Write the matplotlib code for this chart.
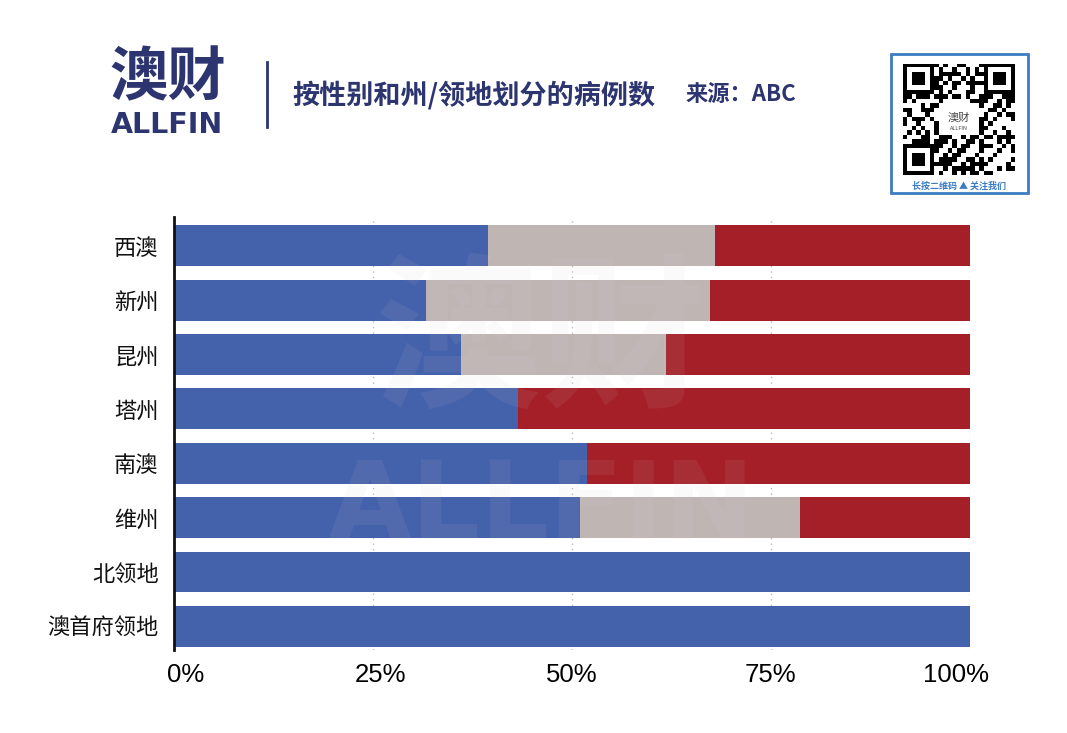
import matplotlib.pyplot as plt
import matplotlib.transforms as mtransforms
import numpy as np
from matplotlib.patches import Rectangle

plt.rcParams['font.family'] = ['Noto Sans CJK SC', 'DejaVu Sans']

# 数据（百分比，从图上读取）
states = ['西澳', '新州', '昆州', '塔州', '南澳', '维州', '北领地', '澳首府领地']
blue_pct = [39.4, 31.7, 36.1, 43.2, 51.9, 51.0, 100.0, 100.0]
gray_pct = [28.6, 35.6, 25.7, 0.0, 0.0, 27.6, 0.0, 0.0]
red_pct = [32.0, 32.7, 38.2, 56.8, 48.1, 21.4, 0.0, 0.0]
xticks = [0, 25, 50, 75, 100]
xtick_labels = ['0%', '25%', '50%', '75%', '100%']

c_blue = '#4461ab'
c_gray = '#bfb6b4'
c_red = '#a51f28'
navy = '#2c3570'

fig = plt.figure(figsize=(10.67, 7.33), dpi=100)
ax = fig.add_axes([0.163, 0.113, 0.746, 0.591])

y = np.arange(len(states))
blue = np.array(blue_pct)
gray = np.array(gray_pct)
red = np.array(red_pct)
ax.barh(y, blue, height=0.75, color=c_blue, zorder=2)
ax.barh(y, gray, left=blue, height=0.75, color=c_gray, zorder=2)
ax.barh(y, red, left=blue + gray, height=0.75, color=c_red, zorder=2)

ax.set_xlim(0, 100)
ax.set_ylim(7.44, -0.53)
ax.set_yticks(y)
ax.set_yticklabels(states, fontsize=16, fontweight='medium', color='#111111')
ax.set_xticks(xticks)
ax.set_xticklabels(xtick_labels, fontsize=18.5, family=['Liberation Sans', 'DejaVu Sans'])
ax.tick_params(axis='both', length=0)
ax.tick_params(axis='x', pad=9)
ax.tick_params(axis='y', pad=11)
# 首尾刻度标签略向内收
labels = ax.get_xticklabels()
for lab, dx in [(labels[0], 12), (labels[1], 8), (labels[-1], -14)]:
    lab.set_transform(lab.get_transform() +
                      mtransforms.ScaledTranslation(dx / 100, 0, fig.dpi_scale_trans))
for s in ['top', 'right', 'bottom']:
    ax.spines[s].set_visible(False)
ax.spines['left'].set_linewidth(2)
ax.spines['left'].set_color('#111111')
ax.xaxis.grid(True, linestyle=(0, (1, 3)), color='#bbbbbb', linewidth=1, zorder=0)
ax.set_axisbelow(True)

# 水印
fig.text(0.507, 0.53, '澳财', fontsize=120, fontweight='heavy', color='#cccccc',
         alpha=0.09, ha='center', va='center', zorder=10)
fig.text(0.507, 0.305, 'ALLFIN', fontsize=78, fontweight='bold', color='#cccccc',
         alpha=0.09, ha='center', va='center', family=['DejaVu Sans'], zorder=10)

# 标志与标题
fig.text(0.103, 0.893, '澳财', fontsize=42, fontweight='heavy', color=navy,
         ha='left', va='center')
fig.text(0.104, 0.830, 'ALLFIN', fontsize=20.5, fontweight='bold', color=navy,
         ha='left', va='center', family=['DejaVu Sans'])
fig.add_artist(plt.Line2D([0.250, 0.250], [0.827, 0.915], color=navy, linewidth=2))
fig.text(0.274, 0.871, '按性别和州/领地划分的病例数', fontsize=19.5, fontweight='bold',
         color=navy, ha='left', va='center')
fig.text(0.642, 0.871, '来源：ABC', fontsize=16, fontweight='bold',
         color=navy, ha='left', va='center')

# 二维码框（装饰）
qx0, qy0, qw, qh = 0.835, 0.737, 0.128, 0.190
fig.add_artist(Rectangle((qx0, qy0), qw, qh, transform=fig.transFigure,
                         fill=False, edgecolor='#3b7cc4', linewidth=2))
qax = fig.add_axes([0.846, 0.761, 0.105, 0.152])
bits = np.unpackbits(np.frombuffer('ALLFIN澳财长按二维码关注我们按性别和州领地划分的病例数'.encode('utf-8') * 3,
                                   dtype=np.uint8))[:625].reshape(25, 25)
grid = bits.astype(float)
for (r, c) in [(0, 0), (0, 18), (18, 0)]:
    grid[r:r + 7, c:c + 7] = 1
    grid[r + 1:r + 6, c + 1:c + 6] = 0
    grid[r + 2:r + 5, c + 2:c + 5] = 1
grid[9:16, 8:17] = 0
qax.imshow(grid, cmap='Greys', interpolation='nearest', vmin=0, vmax=1)
qax.text(12, 11.5, '澳财', fontsize=8, color='#444444', ha='center', va='center')
qax.text(12, 14, 'ALLFIN', fontsize=4, color='#444444', ha='center', va='center')
qax.axis('off')
fig.text(qx0 + qw / 2, 0.746, '长按二维码 ▲ 关注我们', fontsize=6.5, fontweight='bold',
         color='#3b7cc4', ha='center', va='center',
         bbox=dict(facecolor='white', edgecolor='none', pad=1))

fig.savefig('out.png', dpi=100)
